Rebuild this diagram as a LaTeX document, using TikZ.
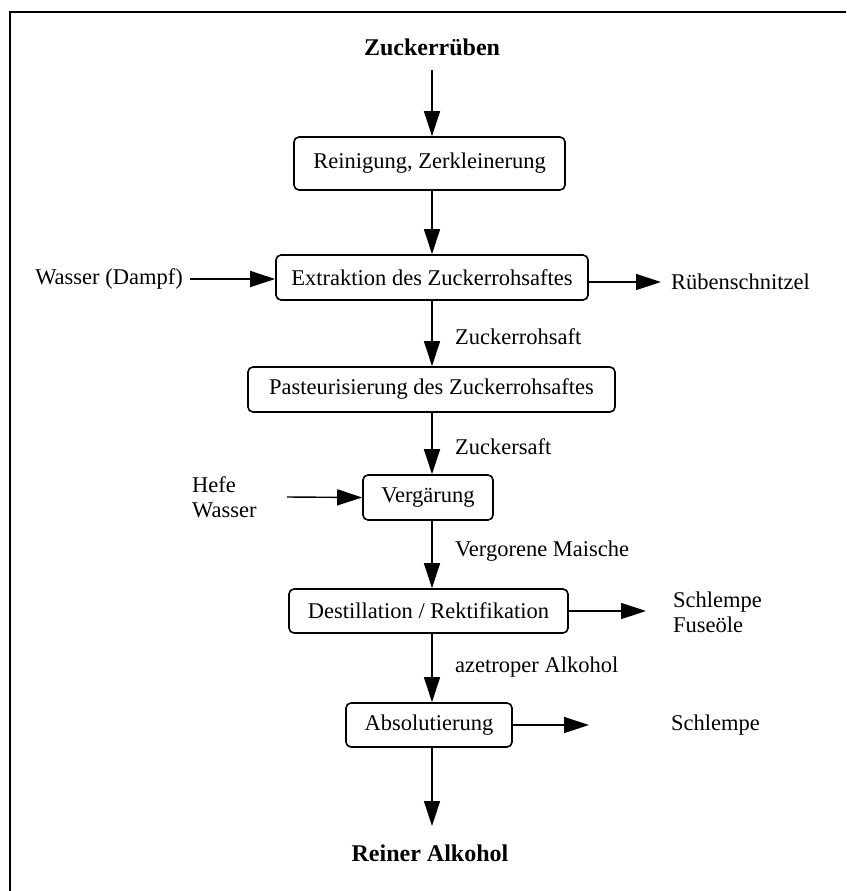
\documentclass[tikz,border=0pt]{standalone}
\usepackage{fontspec}
\setmainfont{Liberation Serif}
\usetikzlibrary{arrows.meta}
\begin{document}
\begin{tikzpicture}[x=1pt,y=-1pt,
  box/.style={draw,line width=1.6pt,rounded corners=5pt,inner sep=0pt,font=\fontsize{22.5}{25}\selectfont},
  lbl/.style={inner sep=0pt,font=\fontsize{22.5}{25}\selectfont},
  ttl/.style={inner sep=0pt,font=\fontsize{24}{26}\selectfont\bfseries},
  arr/.style={line width=1.4pt,-{Triangle[length=25pt,width=16pt]}}]
\useasboundingbox (0,0) rectangle (846,891);
\draw[line width=2.8pt] (10,891) -- (10,12) -- (846,12);
\coordinate (col) at (432,0);
\node[ttl] (src) at (432,47) {Zuckerrüben};
\node[box,minimum width=271pt,minimum height=53pt] (b1) at (429.5,163.5) {Reinigung, Zerkleinerung};
\node[box,minimum width=312pt,minimum height=45pt] (b2) at (432,277.5) {Extraktion des Zuckerrohsaftes};
\node[box,minimum width=367pt,minimum height=45pt] (b3) at (431.5,389.5) {Pasteurisierung des Zuckerrohsaftes};
\node[box,minimum width=130pt,minimum height=45pt] (b4) at (428,497.5) {Vergärung};
\node[box,minimum width=279pt,minimum height=44pt] (b5) at (428.5,611) {Destillation / Rektifikation};
\node[box,minimum width=166pt,minimum height=44pt] (b6) at (429,725) {Absolutierung};
\node[ttl] (dst) at (430,853) {Reiner Alkohol};
\node[lbl,anchor=east] (wd) at (183,279) {Wasser (Dampf)};
\node[lbl,anchor=west] (rs) at (671,282) {Rübenschnitzel};
\node[lbl,anchor=west,align=left] (hw) at (192,497) {Hefe\\Wasser};
\node[lbl,anchor=west,align=left] (sf) at (673,612) {Schlempe\\Fuseöle};
\node[lbl,anchor=west] (sc) at (671,725) {Schlempe};
\node[lbl,anchor=west] (l1) at (455,337) {Zuckerrohsaft};
\node[lbl,anchor=west] (l2) at (455,447) {Zuckersaft};
\node[lbl,anchor=west] (l3) at (455,551) {Vergorene Maische};
\node[lbl,anchor=west] (l4) at (455,667) {azetroper Alkohol};
\coordinate (e1) at (432,70);
\coordinate (e7) at (432,826);
\coordinate (t5) at (646,611);
\coordinate (t6) at (589,725);
\draw[arr] (e1) -- (b1.north -| col);
\draw[arr] (b1.south -| col) -- (b2.north -| col);
\draw[arr] (b2.south -| col) -- (b3.north -| col);
\draw[arr] (b3.south -| col) -- (b4.north -| col);
\draw[arr] (b4.south -| col) -- (b5.north -| col);
\draw[arr] (b5.south -| col) -- (b6.north -| col);
\draw[arr] (b6.south -| col) -- (e7);
\draw[arr] ([xshift=7pt]wd.east) -- (b2.west |- wd.east);
\draw[arr] (b2.east |- rs.west) -- ([xshift=-10pt]rs.west);
\draw[arr] ([xshift=30pt]hw.east) -- (b4.west);
\draw[arr] (b5.east) -- (t5);
\draw[arr] (b6.east) -- (t6);
\end{tikzpicture}
\end{document}
